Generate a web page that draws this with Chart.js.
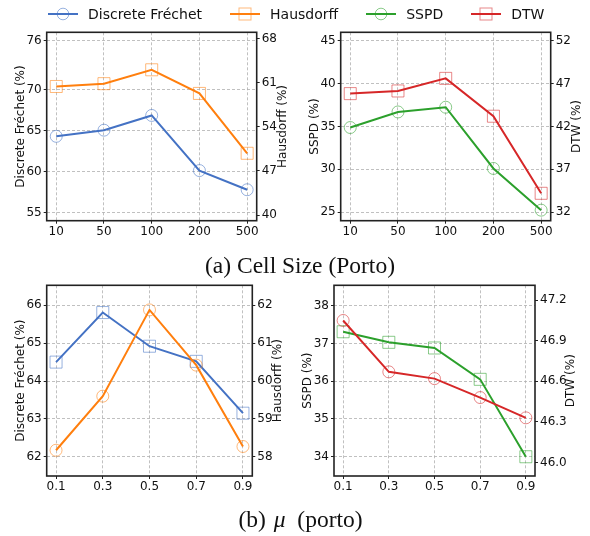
<!DOCTYPE html>
<html>
<head>
<meta charset="utf-8">
<script src="https://cdn.jsdelivr.net/npm/chart.js@4.4.0/dist/chart.umd.min.js"></script>
<style>
  body { margin: 0; background: #fff; width: 590px; height: 536px; position: relative; overflow: hidden; font-family: "DejaVu Sans", sans-serif; }
  canvas { position: absolute; }
  .legend { position: absolute; left: 48px; top: 5px; height: 18px; display: flex; gap: 28px; align-items: center; font-size: 14px; color: #111; }
  .legend span { display: flex; align-items: center; }
  .legend svg { margin-right: 10px; }
  .caption { position: absolute; text-align: center; font-family: "Liberation Serif", serif; font-size: 23.5px; line-height: 26px; color: #111; }
  .caption i { margin: 0 6px 0 2px; }
</style>
</head>
<body>
<canvas id="cellFD" width="295" height="238" style="left:0;top:18px"></canvas>
<canvas id="cellSD" width="295" height="238" style="left:295px;top:18px"></canvas>
<canvas id="muFD" width="295" height="236" style="left:0;top:272px"></canvas>
<canvas id="muSD" width="295" height="236" style="left:295px;top:272px"></canvas>

<div class="legend" id="legend"></div>
<div class="caption" style="left:0;width:600px;top:252px">(a) Cell Size (Porto)</div>
<div class="caption" style="left:0;width:601px;top:506px">(b) <i>μ</i> (porto)</div>

<script>
// x categories
var cellSizes = ['10', '50', '100', '200', '500'];
var muValues = ['0.1', '0.3', '0.5', '0.7', '0.9'];

// (a) cell size
var cellFrechet = [64.3, 65.05, 66.85, 60.12, 57.78];
var cellHausdorff = [60.4, 60.85, 63.05, 59.3, 49.8];
var cellSSPD = [34.88, 36.7, 37.25, 30.1, 25.23];
var cellDTW = [45.84, 46.15, 47.62, 43.2, 34.2];

// (b) mu
var muFrechet = [64.5, 65.81, 64.92, 64.52, 63.15];
var muHausdorff = [58.17, 59.6, 61.88, 60.42, 58.27];
var muSSPD = [37.31, 37.03, 36.88, 36.05, 34.0];
var muDTW = [47.05, 46.67, 46.62, 46.48, 46.33];

// tick labels
var cellFrechetTicks = [55, 60, 65, 70, 76];
var cellHausdorffTicks = [40, 47, 54, 61, 68];
var cellSSPDTicks = [25, 30, 35, 40, 45];
var cellDTWTicks = [32, 37, 42, 47, 52];
var muFrechetTicks = [62, 63, 64, 65, 66];
var muHausdorffTicks = [58, 59, 60, 61, 62];
var muSSPDTicks = [34, 35, 36, 37, 38];
var muDTWTicks = [46.0, 46.3, 46.6, 46.9, 47.2];

var colors = {
  frechet: '#4472c4',
  hausdorff: '#ff7f0e',
  sspd: '#2ca02c',
  dtw: '#d62728'
};

var FONT = '"DejaVu Sans", sans-serif';

function fade(hex, a) {
  var n = parseInt(hex.slice(1), 16);
  return 'rgba(' + (n >> 16) + ',' + ((n >> 8) & 255) + ',' + (n & 255) + ',' + a + ')';
}

// frame + axis titles (right title reads bottom-to-top like matplotlib twinx)
var framePlugin = {
  id: 'frame',
  afterDraw: function(chart, args, opts) {
    var ctx = chart.ctx, a = chart.chartArea;
    var cy = (a.top + a.bottom) / 2;
    ctx.save();
    ctx.strokeStyle = '#222';
    ctx.lineWidth = 1.6;
    ctx.strokeRect(a.left, a.top, a.right - a.left, a.bottom - a.top);
    ctx.fillStyle = '#111';
    ctx.font = '12px ' + FONT;
    ctx.textAlign = 'center';
    ctx.textBaseline = 'middle';
    ctx.translate(a.left - opts.leftGap, cy);
    ctx.rotate(-Math.PI / 2);
    ctx.fillText(opts.left, 0, 0);
    ctx.setTransform(1, 0, 0, 1, 0, 0);
    ctx.translate(a.right + opts.rightGap, cy);
    ctx.rotate(-Math.PI / 2);
    ctx.fillText(opts.right, 0, 0);
    ctx.restore();
  }
};

function series(values, color, marker, axis, order) {
  return {
    data: values.map(function(v, i) { return {x: i, y: v}; }),
    yAxisID: axis,
    order: order,
    borderColor: color,
    borderWidth: 2,
    tension: 0,
    fill: false,
    pointStyle: marker,
    pointRadius: marker === 'rect' ? 8.5 : 6,
    pointBorderWidth: 1,
    pointBorderColor: fade(color, 0.55),
    pointBackgroundColor: 'rgba(0,0,0,0)'
  };
}

var gridOpts = {
  color: '#b0b0b0',
  lineWidth: 0.8,
  tickColor: '#222',
  tickBorderDash: [],
  tickWidth: 1,
  tickLength: 3
};

function yAxis(pos, min, max, ticks, decimals, width, grid) {
  return {
    type: 'linear',
    position: pos,
    min: min,
    max: max,
    afterBuildTicks: function(s) { s.ticks = ticks.map(function(v) { return {value: v}; }); },
    afterFit: function(s) { s.width = width; },
    ticks: {
      color: '#111',
      font: {family: FONT, size: 12},
      padding: 2,
      callback: function(v) { return v.toFixed(decimals); }
    },
    border: {display: false, dash: [3, 2]},
    grid: Object.assign({drawOnChartArea: grid}, gridOpts)
  };
}

function makeChart(id, c) {
  new Chart(document.getElementById(id), {
    type: 'line',
    data: {
      datasets: [
        series(c.rightValues, c.rightColor, c.rightMarker, 'yR', 0),
        series(c.leftValues, c.leftColor, c.leftMarker, 'yL', 1)
      ]
    },
    options: {
      responsive: false,
      animation: false,
      devicePixelRatio: 1,
      layout: {padding: {top: c.padTop, left: 0, right: 0, bottom: 0}},
      plugins: {
        legend: {display: false},
        tooltip: {enabled: false},
        frame: {left: c.leftTitle, right: c.rightTitle, leftGap: c.leftGap, rightGap: c.rightGap}
      },
      scales: {
        x: {
          type: 'linear',
          min: -0.2,
          max: 4.2,
          afterBuildTicks: function(s) { s.ticks = [0, 1, 2, 3, 4].map(function(v) { return {value: v}; }); },
          afterFit: function(s) { s.height = c.xHeight; },
          ticks: {
            color: '#111',
            font: {family: FONT, size: 12},
            padding: 1,
            maxRotation: 0,
            callback: function(v) { return c.labels[v]; }
          },
          border: {display: false, dash: [3, 2]},
          grid: Object.assign({}, gridOpts)
        },
        yL: yAxis('left', c.leftMin, c.leftMax, c.leftTicks, c.leftDecimals, c.leftWidth, true),
        yR: yAxis('right', c.rightMin, c.rightMax, c.rightTicks, c.rightDecimals, c.rightWidth, false)
      }
    },
    plugins: [framePlugin]
  });
}

makeChart('cellFD', {
  labels: cellSizes,
  leftValues: cellFrechet, leftColor: colors.frechet, leftMarker: 'circle',
  rightValues: cellHausdorff, rightColor: colors.hausdorff, rightMarker: 'rect',
  leftMin: 54.0, leftMax: 77.0, leftTicks: cellFrechetTicks, leftDecimals: 0,
  rightMin: 39.1, rightMax: 69.0, rightTicks: cellHausdorffTicks, rightDecimals: 0,
  leftTitle: 'Discrete Fréchet (%)', rightTitle: 'Hausdorff (%)',
  leftGap: 26, rightGap: 26,
  leftWidth: 46.7, rightWidth: 38.3, padTop: 14.3, xHeight: 35.3
});

makeChart('cellSD', {
  labels: cellSizes,
  leftValues: cellSSPD, leftColor: colors.sspd, leftMarker: 'circle',
  rightValues: cellDTW, rightColor: colors.dtw, rightMarker: 'rect',
  leftMin: 24.0, leftMax: 46.0, leftTicks: cellSSPDTicks, leftDecimals: 0,
  rightMin: 31.0, rightMax: 53.0, rightTicks: cellDTWTicks, rightDecimals: 0,
  leftTitle: 'SSPD (%)', rightTitle: 'DTW (%)',
  leftGap: 26, rightGap: 26,
  leftWidth: 45.7, rightWidth: 39.3, padTop: 14.3, xHeight: 35.3
});

makeChart('muFD', {
  labels: muValues,
  leftValues: muFrechet, leftColor: colors.frechet, leftMarker: 'rect',
  rightValues: muHausdorff, rightColor: colors.hausdorff, rightMarker: 'circle',
  leftMin: 61.49, leftMax: 66.53, leftTicks: muFrechetTicks, leftDecimals: 0,
  rightMin: 57.49, rightMax: 62.53, rightTicks: muHausdorffTicks, rightDecimals: 0,
  leftTitle: 'Discrete Fréchet (%)', rightTitle: 'Hausdorff (%)',
  leftGap: 26, rightGap: 26,
  leftWidth: 46.7, rightWidth: 42.7, padTop: 13.3, xHeight: 32
});

makeChart('muSD', {
  labels: muValues,
  leftValues: muSSPD, leftColor: colors.sspd, leftMarker: 'rect',
  rightValues: muDTW, rightColor: colors.dtw, rightMarker: 'circle',
  leftMin: 33.49, leftMax: 38.54, leftTicks: muSSPDTicks, leftDecimals: 0,
  rightMin: 45.90, rightMax: 47.31, rightTicks: muDTWTicks, rightDecimals: 1,
  leftTitle: 'SSPD (%)', rightTitle: 'DTW (%)',
  leftGap: 26, rightGap: 36,
  leftWidth: 39, rightWidth: 55, padTop: 13.3, xHeight: 32
});

// shared legend across the top
var legendItems = [
  {name: 'Discrete Fréchet', color: colors.frechet, marker: 'circle'},
  {name: 'Hausdorff', color: colors.hausdorff, marker: 'rect'},
  {name: 'SSPD', color: colors.sspd, marker: 'circle'},
  {name: 'DTW', color: colors.dtw, marker: 'rect'}
];

var legend = document.getElementById('legend');
legendItems.forEach(function(item) {
  var m = item.marker === 'circle'
    ? '<circle cx="15" cy="8" r="5.8" fill="none" stroke="' + fade(item.color, 0.55) + '" stroke-width="1"/>'
    : '<rect x="9" y="2" width="12" height="12" fill="none" stroke="' + fade(item.color, 0.55) + '" stroke-width="1"/>';
  var el = document.createElement('span');
  el.innerHTML = '<svg width="30" height="16"><line x1="0" y1="8" x2="30" y2="8" stroke="' + item.color + '" stroke-width="2"/>' + m + '</svg>' + item.name;
  legend.appendChild(el);
});
</script>
</body>
</html>
